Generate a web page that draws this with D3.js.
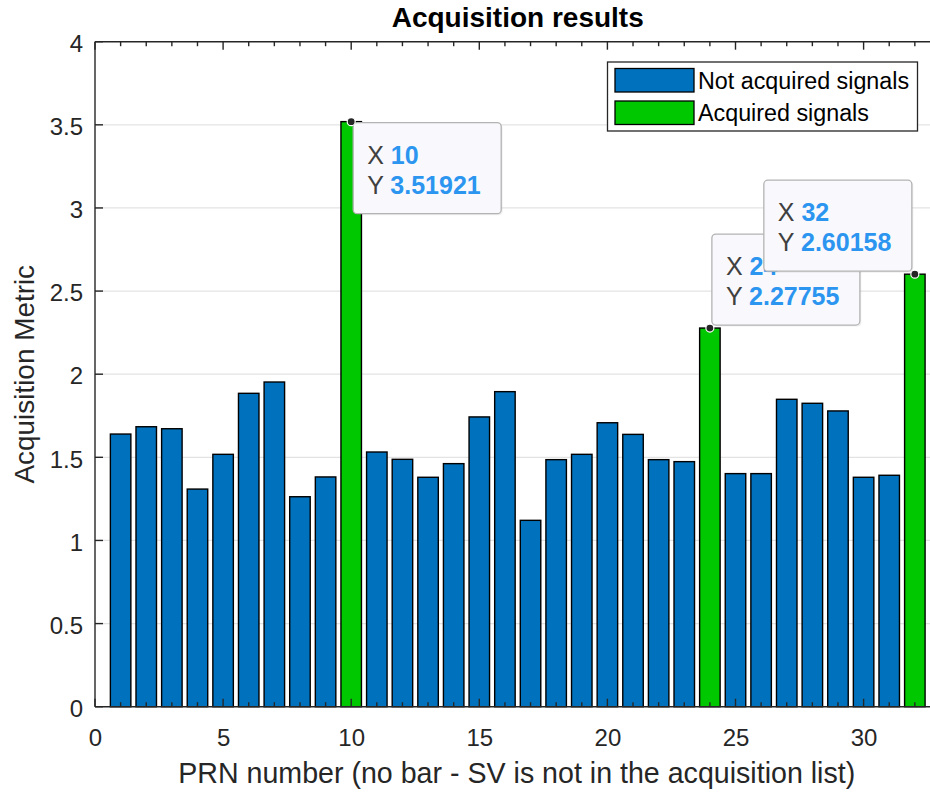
<!DOCTYPE html>
<html>
<head>
<meta charset="utf-8">
<script src="https://cdn.jsdelivr.net/npm/d3@7"></script>
<style>
  html, body { margin: 0; padding: 0; background: #fff; }
  svg { display: block; font-family: "Liberation Sans", Arial, Helvetica, sans-serif; }
</style>
</head>
<body>
<svg id="chart" width="930" height="792"></svg>
<script>
// PRN numbers 1..32 and their acquisition metric
const prns = d3.range(1, 33);
const metric = [
  1.640, 1.684, 1.672, 1.309, 1.518, 1.885, 1.953, 1.263, 1.382, 3.51921,
  1.532, 1.488, 1.380, 1.462, 1.743, 1.895, 1.121, 1.486, 1.518, 1.708,
  1.638, 1.486, 1.474, 2.27755, 1.402, 1.402, 1.849, 1.825, 1.779, 1.380,
  1.392, 2.60158
];
// PRNs that passed the acquisition threshold
const acquired = [10, 24, 32];
// PRNs with a data tip, and which way each tip box opens from its marker
const tipPrns = [10, 24, 32];
const tipSides = ["down-right", "up-right", "up-left"];

const xTicks = [0, 5, 10, 15, 20, 25, 30];
const yTicks = [0, 0.5, 1, 1.5, 2, 2.5, 3, 3.5, 4];

const legendLabels = ["Not acquired signals", "Acquired signals"];
const BLUE = "#0072BD", GREEN = "#00c800";
const AXIS = "#262626";

const svg = d3.select("#chart");
const plotLeft = 95, plotTop = 41.7, plotBottom = 706.7;
const x = d3.scaleLinear().domain([0, 33]).range([plotLeft, plotLeft + 33 * 25.62]);
const y = d3.scaleLinear().domain([0, 4]).range([plotBottom, plotTop]);
const W = 930;

// grid lines
svg.append("g").selectAll("line").data(yTicks.filter(d => d > 0 && d < 4)).join("line")
  .attr("x1", plotLeft).attr("x2", W).attr("y1", d => y(d)).attr("y2", d => y(d))
  .attr("stroke", "#e3e3e3").attr("stroke-width", 1.2);

// bars
const bw = (x(1) - x(0)) * 0.8;
svg.append("g").selectAll("rect").data(prns).join("rect")
  .attr("x", d => x(d) - bw / 2)
  .attr("y", (d, i) => y(metric[i]))
  .attr("width", bw)
  .attr("height", (d, i) => y(0) - y(metric[i]))
  .attr("fill", d => acquired.includes(d) ? GREEN : BLUE)
  .attr("stroke", "#000").attr("stroke-width", 1.4);

// tick labels
const gx = svg.append("g").attr("transform", `translate(0,${plotBottom})`)
  .call(d3.axisBottom(x).tickValues(xTicks).tickSize(0).tickPadding(0).tickFormat(d3.format("d")));
gx.select(".domain").remove();
gx.selectAll("line").remove();
gx.selectAll("text").attr("y", 22).attr("dy", "0.71em").attr("font-size", 24).attr("fill", AXIS)
  .attr("font-family", "Liberation Sans, Arial, sans-serif");

const gy = svg.append("g").attr("transform", `translate(${plotLeft},2)`)
  .call(d3.axisLeft(y).tickValues(yTicks).tickSize(0).tickPadding(12).tickFormat(d3.format("")));
gy.select(".domain").remove();
gy.selectAll("line").remove();
gy.selectAll("text").attr("font-size", 24).attr("fill", AXIS)
  .attr("font-family", "Liberation Sans, Arial, sans-serif");

// axis lines (box style with inward ticks)
const axl = svg.append("g").attr("stroke", AXIS).attr("stroke-width", 1.4).attr("fill", "none");
axl.append("line").attr("x1", plotLeft).attr("x2", W).attr("y1", plotBottom).attr("y2", plotBottom);
axl.append("line").attr("x1", plotLeft).attr("x2", W).attr("y1", plotTop).attr("y2", plotTop);
axl.append("line").attr("x1", plotLeft).attr("x2", plotLeft).attr("y1", plotTop).attr("y2", plotBottom);

// x ticks: minor at every PRN, major at labelled values, on bottom and top edges
const xMinor = d3.range(0, 34);
[plotBottom, plotTop].forEach(edge => {
  const dir = edge === plotBottom ? -1 : 1;
  axl.append("g").selectAll("line").data(xMinor).join("line")
    .attr("x1", d => x(d)).attr("x2", d => x(d))
    .attr("y1", edge).attr("y2", d => edge + dir * (xTicks.includes(d) ? 8 : 4.5));
});
// y ticks
axl.append("g").selectAll("line").data(yTicks).join("line")
  .attr("x1", plotLeft).attr("x2", plotLeft + 8)
  .attr("y1", d => y(d)).attr("y2", d => y(d));

// titles
svg.append("text").attr("x", (x(0) + x(33)) / 2).attr("y", 27).attr("text-anchor", "middle")
  .attr("font-size", 28).attr("font-weight", "bold").attr("fill", "#000")
  .text("Acquisition results");
svg.append("text").attr("x", (x(0) + x(33)) / 2 - 1).attr("y", 783).attr("text-anchor", "middle")
  .attr("font-size", 28.6).attr("fill", AXIS)
  .text("PRN number (no bar - SV is not in the acquisition list)");
svg.append("text").attr("transform", `translate(34,${(plotTop + plotBottom) / 2}) rotate(-90)`)
  .attr("text-anchor", "middle").attr("font-size", 27.9).attr("fill", AXIS)
  .text("Acquisition Metric");

// legend
const lg = svg.append("g");
lg.append("rect").attr("x", 607.5).attr("y", 62).attr("width", 310).attr("height", 69)
  .attr("fill", "#fff").attr("stroke", AXIS).attr("stroke-width", 1.3);
legendLabels.forEach((lab, i) => {
  const yy = 68.5 + i * 32.5;
  lg.append("rect").attr("x", 615).attr("y", yy).attr("width", 79).attr("height", 23.5)
    .attr("fill", i === 0 ? BLUE : GREEN).attr("stroke", "#000").attr("stroke-width", 1.3);
  lg.append("text").attr("x", 698).attr("y", yy + 20).attr("font-size", 23.3).attr("fill", "#000")
    .text(lab);
});

// data tips
const tipW = 148, tipH = 91;
tipPrns.forEach((p, k) => {
  const v = metric[p - 1];
  const px = x(p), py = y(v);
  const side = tipSides[k];
  const bx = side.endsWith("right") ? px + 2 : px - 3 - tipW;
  const by = side.startsWith("down") ? py + 1 : py - 3 - tipH;
  const g = svg.append("g");
  g.append("rect").attr("x", bx + 1.5).attr("y", by + 1.5).attr("width", tipW).attr("height", tipH)
    .attr("rx", 4).attr("fill", "#000").attr("opacity", 0.06);
  g.append("rect").attr("x", bx).attr("y", by).attr("width", tipW).attr("height", tipH)
    .attr("rx", 4).attr("fill", "#f9f9fd").attr("stroke", "#b3b3b3").attr("stroke-width", 1.3);
  const rows = [["X", String(p)], ["Y", String(v)]];
  rows.forEach((r, j) => {
    const t = g.append("text").attr("x", bx + 14).attr("y", by + 41 + j * 30).attr("font-size", 25);
    t.append("tspan").attr("fill", "#404040").text(r[0] + " ");
    t.append("tspan").attr("fill", "#2b95f0").attr("font-weight", "bold").text(r[1]);
  });
  svg.append("circle").attr("cx", px).attr("cy", py).attr("r", 4)
    .attr("fill", "#262626").attr("stroke", "#fff").attr("stroke-width", 1.2);
});
</script>
</body>
</html>
